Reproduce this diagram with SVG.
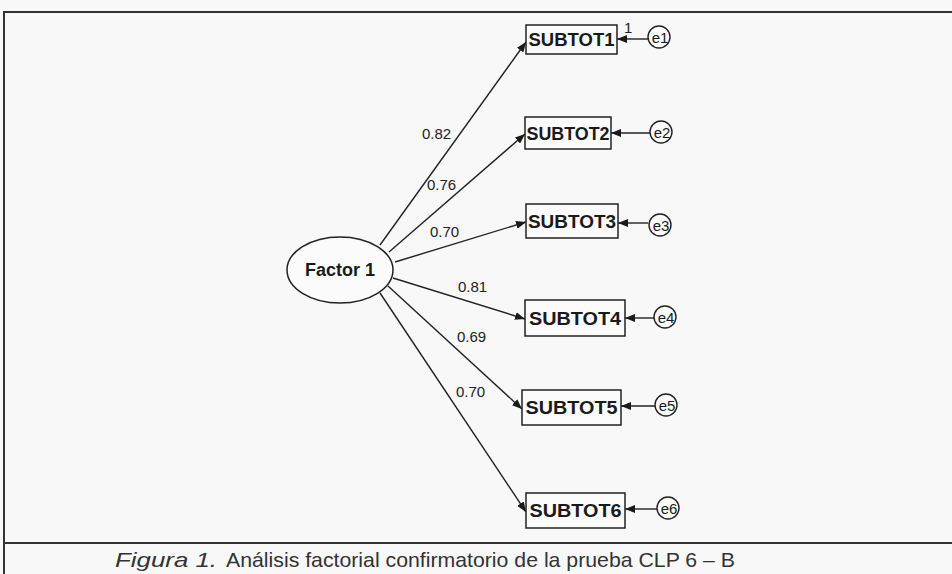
<svg xmlns="http://www.w3.org/2000/svg" width="952" height="574" viewBox="0 0 952 574">
<defs>
<marker id="ah" markerUnits="userSpaceOnUse" markerWidth="10" markerHeight="8" refX="10" refY="4" orient="auto">
<path d="M0,0 L10,4 L0,8 Z" fill="#1a1a1a"/>
</marker>
<style>
.frame{stroke:#333;stroke-width:2;fill:none}
.ln{stroke:#222;stroke-width:1.4;fill:none;marker-end:url(#ah)}
.box{fill:#fbfbfb;stroke:#222;stroke-width:1.5}
.bt{font-family:"Liberation Sans",Arial,sans-serif;font-weight:bold;font-size:18px;fill:#1a1a1a;text-anchor:middle}
.err{fill:#fbfbfb;stroke:#222;stroke-width:1.4}
.et{font-family:"Liberation Sans",Arial,sans-serif;font-size:15px;fill:#1a1a1a;text-anchor:middle}
.lb{font-family:"Liberation Sans",Arial,sans-serif;font-size:15px;fill:#222}
.cap{font-family:"Liberation Sans",Arial,sans-serif;font-size:21px;fill:#333}
</style>
</defs>
<rect width="952" height="574" fill="#f8f8f8"/>
<g id="frame">
<line class="frame" x1="3" y1="12" x2="952" y2="12"/>
<line class="frame" x1="4" y1="12" x2="4" y2="574"/>
<line class="frame" x1="3" y1="543" x2="952" y2="543"/>
</g>
<g id="connectors">
<line class="ln" x1="380" y1="245" x2="526" y2="42"/>
<line class="ln" x1="389" y1="252" x2="525" y2="134"/>
<line class="ln" x1="395" y1="262" x2="526" y2="222"/>
<line class="ln" x1="393" y1="278" x2="525" y2="319"/>
<line class="ln" x1="388" y1="286" x2="522" y2="409"/>
<line class="ln" x1="380" y1="293" x2="526" y2="512"/>
<line class="ln" x1="648" y1="39" x2="617" y2="39"/>
<line class="ln" x1="650" y1="133" x2="611" y2="133"/>
<line class="ln" x1="648" y1="223" x2="618" y2="223"/>
<line class="ln" x1="654" y1="318" x2="625" y2="318"/>
<line class="ln" x1="655" y1="406" x2="621" y2="406"/>
<line class="ln" x1="657" y1="509" x2="625" y2="509"/>
<text class="lb" x="422" y="139">0.82</text>
<text class="lb" x="427" y="190">0.76</text>
<text class="lb" x="430" y="237">0.70</text>
<text class="lb" x="458" y="292">0.81</text>
<text class="lb" x="457" y="342">0.69</text>
<text class="lb" x="456" y="397">0.70</text>
<text class="lb" x="624" y="33" font-size="14">1</text>
</g>
<g id="factor1">
<ellipse cx="340" cy="270" rx="53" ry="33" fill="#fbfbfb" stroke="#222" stroke-width="1.5"/>
<text class="bt" x="340" y="276" font-size="17">Factor 1</text>
</g>
<g id="subtot1"><rect class="box" x="526" y="25" width="91" height="29"/><text class="bt" x="571.5" y="46" textLength="86" lengthAdjust="spacingAndGlyphs">SUBTOT1</text></g>
<g id="subtot2"><rect class="box" x="525" y="117" width="86" height="32"/><text class="bt" x="568" y="140" textLength="83" lengthAdjust="spacingAndGlyphs">SUBTOT2</text></g>
<g id="subtot3"><rect class="box" x="526" y="204" width="92" height="34"/><text class="bt" x="572" y="228" textLength="88" lengthAdjust="spacingAndGlyphs">SUBTOT3</text></g>
<g id="subtot4"><rect class="box" x="525" y="300" width="100" height="36"/><text class="bt" x="575" y="325" textLength="92" lengthAdjust="spacingAndGlyphs">SUBTOT4</text></g>
<g id="subtot5"><rect class="box" x="522" y="390" width="99" height="35"/><text class="bt" x="571.5" y="414" textLength="92" lengthAdjust="spacingAndGlyphs">SUBTOT5</text></g>
<g id="subtot6"><rect class="box" x="526" y="493" width="99" height="35"/><text class="bt" x="575.5" y="517" textLength="92" lengthAdjust="spacingAndGlyphs">SUBTOT6</text></g>
<g id="e1"><circle class="err" cx="659" cy="37" r="11"/><text class="et" x="660" y="43">e1</text></g>
<g id="e2"><circle class="err" cx="661" cy="132" r="11"/><text class="et" x="662" y="138">e2</text></g>
<g id="e3"><circle class="err" cx="660" cy="225" r="11"/><text class="et" x="661" y="231">e3</text></g>
<g id="e4"><circle class="err" cx="665" cy="317" r="11"/><text class="et" x="666" y="323">e4</text></g>
<g id="e5"><circle class="err" cx="666" cy="405" r="11"/><text class="et" x="667" y="411">e5</text></g>
<g id="e6"><circle class="err" cx="668" cy="508" r="11"/><text class="et" x="669" y="514">e6</text></g>
<text class="cap" x="115" y="567" font-style="italic" textLength="102" lengthAdjust="spacingAndGlyphs">Figura 1.</text>
<text class="cap" x="226" y="567" textLength="509" lengthAdjust="spacingAndGlyphs">Análisis factorial confirmatorio de la prueba CLP 6 – B</text>
</svg>
